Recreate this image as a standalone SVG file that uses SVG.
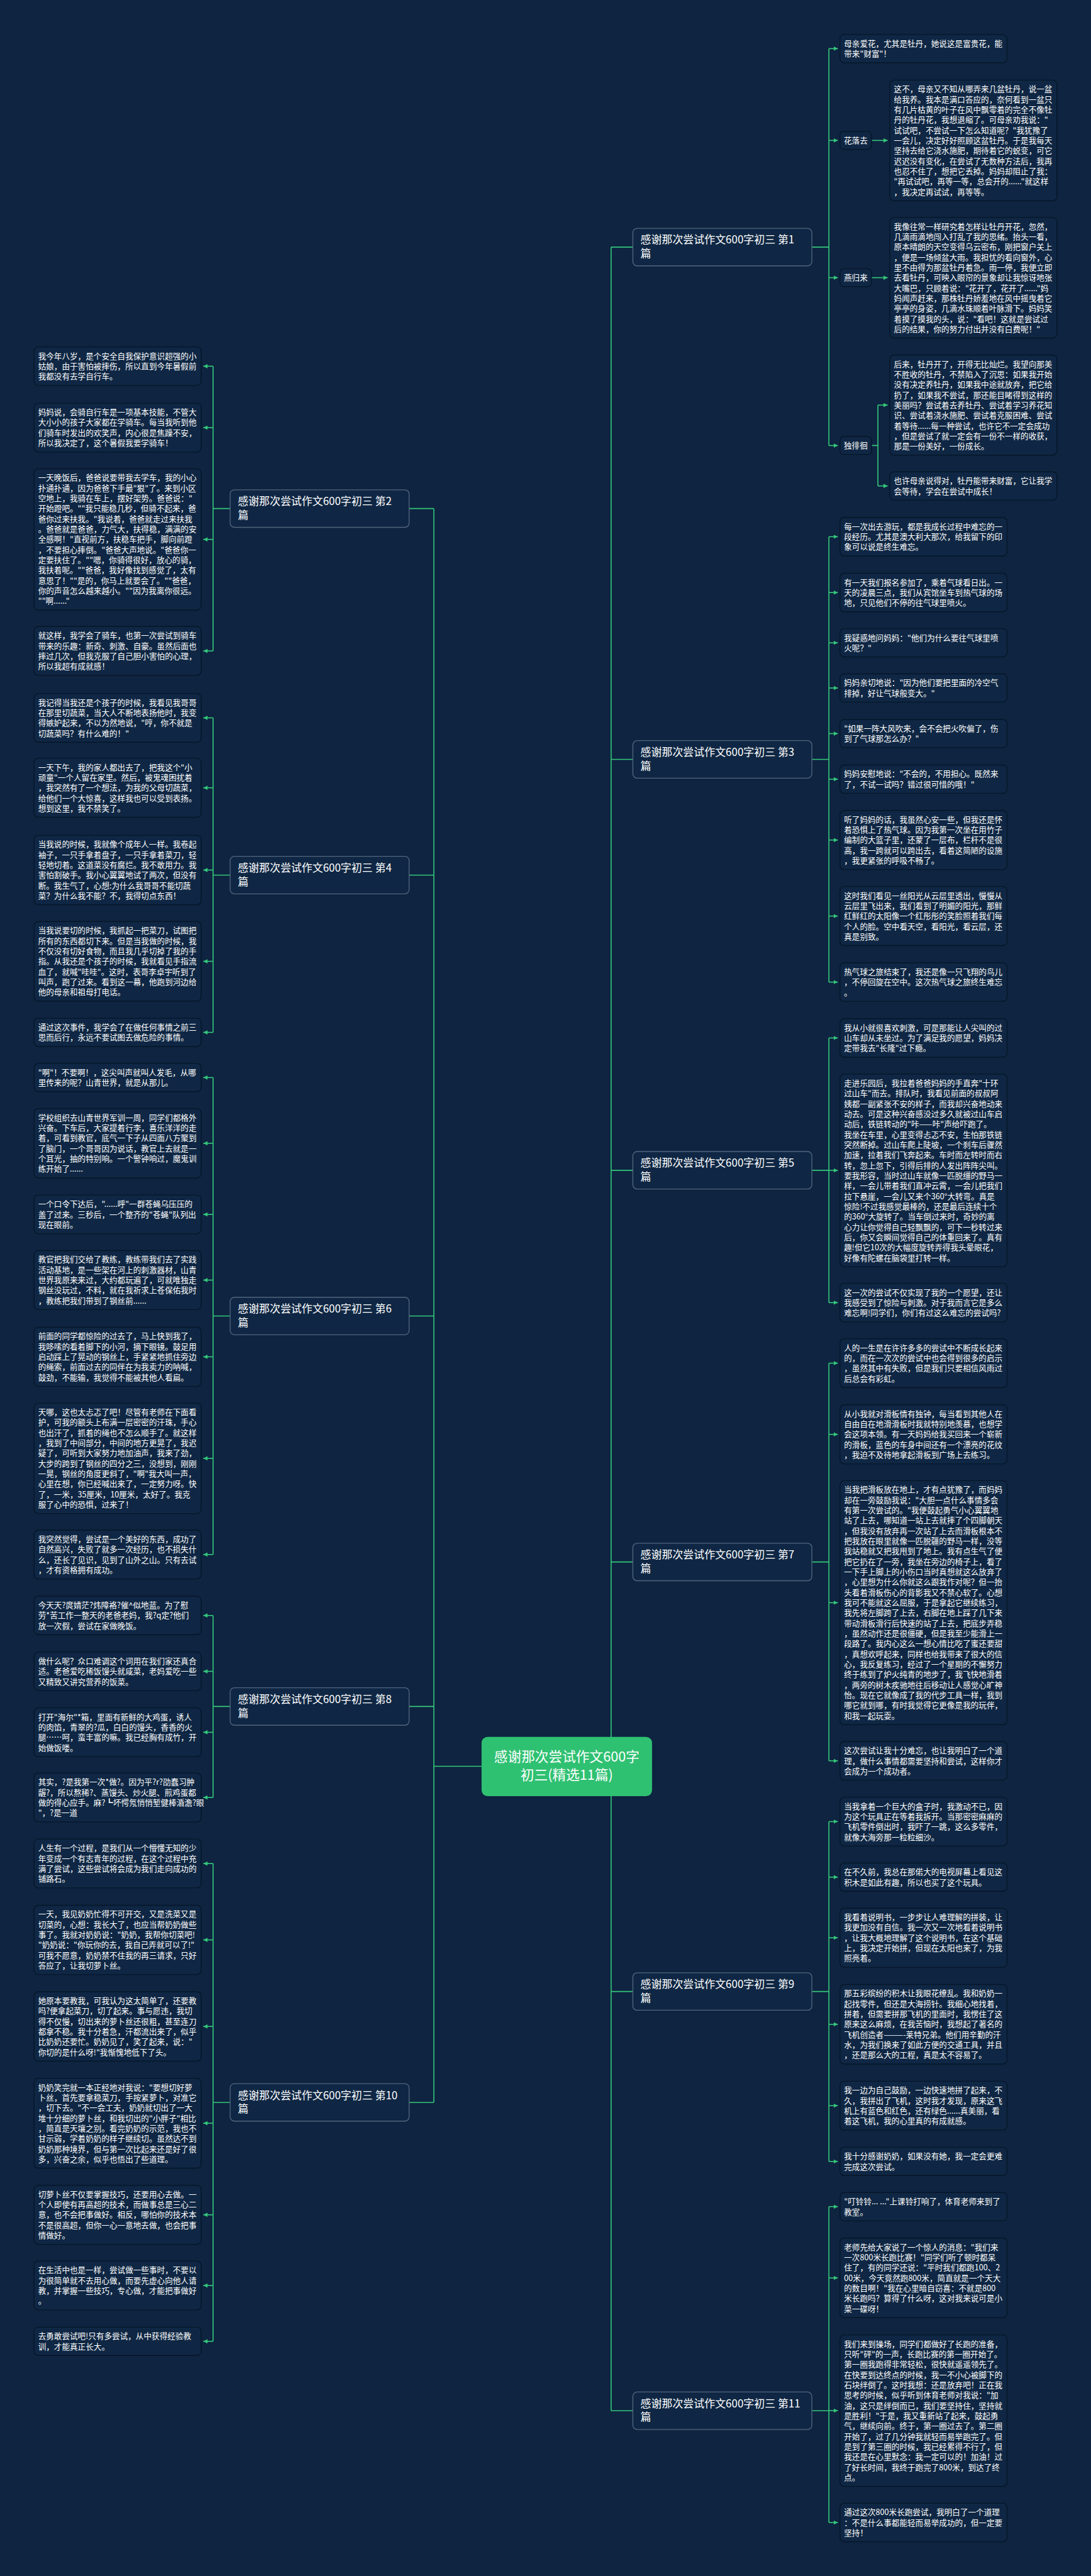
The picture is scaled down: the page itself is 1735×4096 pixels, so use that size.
<svg xmlns="http://www.w3.org/2000/svg" width="1735" height="4096" viewBox="0 0 1735 4096">
<defs>
<style>
.bx{fill:#0f2744;stroke:#061629;stroke-width:2}
.lb{fill:#0f2744;stroke:#061629;stroke-width:2}
.nd{fill:#0f2744;stroke:#51657c;stroke-width:2}
.t{font-family:"Noto Sans CJK SC","Noto Sans",sans-serif;font-size:18.6px;fill:#ffffff}
.nt{font-family:"Noto Sans CJK SC","Noto Sans",sans-serif;font-size:25px;fill:#ffffff}
.rt{font-family:"Noto Sans CJK SC","Noto Sans",sans-serif;font-size:32px;fill:#ffffff}
.ln{stroke:#34c77b;stroke-width:2.4;fill:none}
.ar{stroke:#34c77b;stroke-width:2.4;fill:none;marker-end:url(#ah)}
</style>
<marker id="ah" viewBox="0 0 10 10" refX="10" refY="5" markerWidth="10" markerHeight="10" markerUnits="userSpaceOnUse" orient="auto"><path d="M0,0 L10,5 L0,10 z" fill="#34c77b"/></marker>
</defs>
<rect x="0" y="0" width="1735" height="4096" fill="#0e2440"/>
<g transform="scale(0.67773)">
<g id="connectors">
<path class="ln" d="M1434,579.7 V5656"/>
<path class="ln" d="M1434,579.7 H1485 M1434,1781.7 H1485 M1434,2745.7 H1485 M1434,3664.7 H1485 M1434,4672.4 H1485 M1434,5656 H1485 M1434,4144 H1530"/>
<path class="ln" d="M1018,1193.2 V4932.6"/>
<path class="ln" d="M960,1193.2 H1018 M960,2053.2 H1018 M960,3087.6 H1018 M960,4003.7 H1018 M960,4932.6 H1018 M1018,4144 H1130"/>
<path class="ln" d="M540,1193.2 H500 M500,859.2 V1527.2"/>
<path class="ar" d="M500,859.2 H477"/><path class="ar" d="M500,1003.2 H477"/><path class="ar" d="M500,1265.5 H477"/><path class="ar" d="M500,1527.2 H477"/>
<path class="ln" d="M540,2053.2 H500 M500,1684.2 V2422.1"/>
<path class="ar" d="M500,1684.2 H477"/><path class="ar" d="M500,1848.3 H477"/><path class="ar" d="M500,2041.3 H477"/><path class="ar" d="M500,2255.4 H477"/><path class="ar" d="M500,2422.1 H477"/>
<path class="ln" d="M540,3087.6 H500 M500,2528.1 V3647.2"/>
<path class="ar" d="M500,2528.1 H477"/><path class="ar" d="M500,2682.3 H477"/><path class="ar" d="M500,2849.2 H477"/><path class="ar" d="M500,3003.3 H477"/><path class="ar" d="M500,3183.3 H477"/><path class="ar" d="M500,3421.5 H477"/><path class="ar" d="M500,3647.2 H477"/>
<path class="ln" d="M540,4003.7 H500 M500,3790.2 V4217.2"/>
<path class="ar" d="M500,3790.2 H477"/><path class="ar" d="M500,3921.2 H477"/><path class="ar" d="M500,4064.2 H477"/><path class="ar" d="M500,4217.2 H477"/>
<path class="ln" d="M540,4932.6 H500 M500,4372.2 V5493.1"/>
<path class="ar" d="M500,4372.2 H477"/><path class="ar" d="M500,4551.3 H477"/><path class="ar" d="M500,4754.3 H477"/><path class="ar" d="M500,4981.4 H477"/><path class="ar" d="M500,5196.3 H477"/><path class="ar" d="M500,5362.2 H477"/><path class="ar" d="M500,5493.1 H477"/>
<path class="ln" d="M1905,579.7 H1945 M1945,114.1 V1045.3"/>
<path class="ar" d="M1945,114.1 H1966"/><path class="ar" d="M1945,329.5 H1966"/><path class="ar" d="M1945,651.5 H1966"/><path class="ar" d="M1945,1045.3 H1966"/>
<path class="ar" d="M2045,329.5 H2083"/><path class="ar" d="M2045,651.5 H2083"/>
<path class="ln" d="M2045,1045.3 H2060 M2060,950.4 V1140.1"/>
<path class="ar" d="M2060,950.4 H2083"/><path class="ar" d="M2060,1140.1 H2083"/>
<path class="ln" d="M1905,1781.7 H1945 M1945,1259.2 V2304.2"/>
<path class="ar" d="M1945,1259.2 H1966"/><path class="ar" d="M1945,1390.2 H1966"/><path class="ar" d="M1945,1508.1 H1966"/><path class="ar" d="M1945,1614.1 H1966"/><path class="ar" d="M1945,1721.1 H1966"/><path class="ar" d="M1945,1828.1 H1966"/><path class="ar" d="M1945,1970.8 H1966"/><path class="ar" d="M1945,2149.3 H1966"/><path class="ar" d="M1945,2304.2 H1966"/>
<path class="ln" d="M1905,2745.7 H1945 M1945,2435.2 V3056.2"/>
<path class="ar" d="M1945,2435.2 H1966"/><path class="ar" d="M1945,2745.9 H1966"/><path class="ar" d="M1945,3056.2 H1966"/>
<path class="ln" d="M1905,3664.7 H1945 M1945,3198.2 V4131.2"/>
<path class="ar" d="M1945,3198.2 H1966"/><path class="ar" d="M1945,3365.3 H1966"/><path class="ar" d="M1945,3760.2 H1966"/><path class="ar" d="M1945,4131.2 H1966"/>
<path class="ln" d="M1905,4672.4 H1945 M1945,4273.7 V5071.1"/>
<path class="ar" d="M1945,4273.7 H1966"/><path class="ar" d="M1945,4404.1 H1966"/><path class="ar" d="M1945,4546.3 H1966"/><path class="ar" d="M1945,4749.4 H1966"/><path class="ar" d="M1945,4940.2 H1966"/><path class="ar" d="M1945,5071.1 H1966"/>
<path class="ln" d="M1905,5656 H1945 M1945,5177.1 V5918.2"/>
<path class="ar" d="M1945,5177.1 H1966"/><path class="ar" d="M1945,5344.4 H1966"/><path class="ar" d="M1945,5655.7 H1966"/><path class="ar" d="M1945,5918.2 H1966"/>
</g>

<g id="root" transform="translate(1130,4075)"><rect width="400" height="139" rx="14" fill="#2fc172"/><text class="rt" x="200" y="58" text-anchor="middle"><tspan x="200">感谢那次尝试作文600字</tspan><tspan x="200" dy="42">初三(精选11篇)</tspan></text></g>

<g id="p1" transform="translate(1485,535.7)"><rect class="nd" width="420" height="88" rx="10"/><text class="nt" x="18" y="36"><tspan x="18">感谢那次尝试作文600字初三 第1</tspan><tspan x="18" dy="32">篇</tspan></text></g>
<g id="p3" transform="translate(1485,1737.7)"><rect class="nd" width="420" height="88" rx="10"/><text class="nt" x="18" y="36"><tspan x="18">感谢那次尝试作文600字初三 第3</tspan><tspan x="18" dy="32">篇</tspan></text></g>
<g id="p5" transform="translate(1485,2701.7)"><rect class="nd" width="420" height="88" rx="10"/><text class="nt" x="18" y="36"><tspan x="18">感谢那次尝试作文600字初三 第5</tspan><tspan x="18" dy="32">篇</tspan></text></g>
<g id="p7" transform="translate(1485,3620.7)"><rect class="nd" width="420" height="88" rx="10"/><text class="nt" x="18" y="36"><tspan x="18">感谢那次尝试作文600字初三 第7</tspan><tspan x="18" dy="32">篇</tspan></text></g>
<g id="p9" transform="translate(1485,4628.4)"><rect class="nd" width="420" height="88" rx="10"/><text class="nt" x="18" y="36"><tspan x="18">感谢那次尝试作文600字初三 第9</tspan><tspan x="18" dy="32">篇</tspan></text></g>
<g id="p11" transform="translate(1485,5612)"><rect class="nd" width="420" height="88" rx="10"/><text class="nt" x="18" y="36"><tspan x="18">感谢那次尝试作文600字初三 第11</tspan><tspan x="18" dy="32">篇</tspan></text></g>
<g id="p2" transform="translate(540,1149.2)"><rect class="nd" width="420" height="88" rx="10"/><text class="nt" x="18" y="36"><tspan x="18">感谢那次尝试作文600字初三 第2</tspan><tspan x="18" dy="32">篇</tspan></text></g>
<g id="p4" transform="translate(540,2009.2)"><rect class="nd" width="420" height="88" rx="10"/><text class="nt" x="18" y="36"><tspan x="18">感谢那次尝试作文600字初三 第4</tspan><tspan x="18" dy="32">篇</tspan></text></g>
<g id="p6" transform="translate(540,3043.6)"><rect class="nd" width="420" height="88" rx="10"/><text class="nt" x="18" y="36"><tspan x="18">感谢那次尝试作文600字初三 第6</tspan><tspan x="18" dy="32">篇</tspan></text></g>
<g id="p8" transform="translate(540,3959.7)"><rect class="nd" width="420" height="88" rx="10"/><text class="nt" x="18" y="36"><tspan x="18">感谢那次尝试作文600字初三 第8</tspan><tspan x="18" dy="32">篇</tspan></text></g>
<g id="p10" transform="translate(540,4888.6)"><rect class="nd" width="420" height="88" rx="10"/><text class="nt" x="18" y="36"><tspan x="18">感谢那次尝试作文600字初三 第10</tspan><tspan x="18" dy="32">篇</tspan></text></g>

<g id="a1" transform="translate(80,814)"><rect class="bx" width="392" height="90.3" rx="10"/><text class="t" x="9.5" y="28"><tspan x="9.5">我今年八岁，是个安全自我保护意识超强的小</tspan><tspan x="9.5" dy="24.1">姑娘，由于害怕被摔伤，所以直到今年暑假前</tspan><tspan x="9.5" dy="24.1">我都没有去学自行车。</tspan></text></g>
<g id="a2" transform="translate(80,946)"><rect class="bx" width="392" height="114.4" rx="10"/><text class="t" x="9.5" y="28"><tspan x="9.5">妈妈说，会骑自行车是一项基本技能，不管大</tspan><tspan x="9.5" dy="24.1">大小小的孩子大家都在学骑车。每当我听到他</tspan><tspan x="9.5" dy="24.1">们骑车时发出的欢笑声，内心很是焦躁不安，</tspan><tspan x="9.5" dy="24.1">所以我决定了，这个暑假我要学骑车！</tspan></text></g>
<g id="a3" transform="translate(80,1100)"><rect class="bx" width="392" height="331.3" rx="10"/><text class="t" x="9.5" y="28"><tspan x="9.5">一天晚饭后，爸爸说要带我去学车，我的小心</tspan><tspan x="9.5" dy="24.1">扑通扑通，因为爸爸下手最"狠"了。来到小区</tspan><tspan x="9.5" dy="24.1">空地上，我骑在车上，摆好架势。爸爸说："</tspan><tspan x="9.5" dy="24.1">开始蹬吧。""我只能稳几秒，但骑不起来，爸</tspan><tspan x="9.5" dy="24.1">爸你过来扶我。"我说着，爸爸就走过来扶我</tspan><tspan x="9.5" dy="24.1">。爸爸就是爸爸，力气大，扶得稳，满满的安</tspan><tspan x="9.5" dy="24.1">全感啊！"直视前方，扶稳车把手，脚向前蹬</tspan><tspan x="9.5" dy="24.1">，不要担心摔倒。"爸爸大声地说。"爸爸你一</tspan><tspan x="9.5" dy="24.1">定要扶住了。""嗯，你骑得很好，放心的骑，</tspan><tspan x="9.5" dy="24.1">我扶着呢。""爸爸，我好像找到感觉了，太有</tspan><tspan x="9.5" dy="24.1">意思了！""是的，你马上就要会了。""爸爸，</tspan><tspan x="9.5" dy="24.1">你的声音怎么越来越小。""因为我离你很远。</tspan><tspan x="9.5" dy="24.1">""啊......"</tspan></text></g>
<g id="a4" transform="translate(80,1470)"><rect class="bx" width="392" height="114.4" rx="10"/><text class="t" x="9.5" y="28"><tspan x="9.5">就这样，我学会了骑车，也第一次尝试到骑车</tspan><tspan x="9.5" dy="24.1">带来的乐趣：新奇、刺激、自豪。虽然后面也</tspan><tspan x="9.5" dy="24.1">摔过几次，但我克服了自己胆小害怕的心理，</tspan><tspan x="9.5" dy="24.1">所以我超有成就感！</tspan></text></g>

<g id="b1" transform="translate(80,1627)"><rect class="bx" width="392" height="114.4" rx="10"/><text class="t" x="9.5" y="28"><tspan x="9.5">我记得当我还是个孩子的时候，我看见我哥哥</tspan><tspan x="9.5" dy="24.1">在那里切蔬菜，当大人不断地表扬他时，我变</tspan><tspan x="9.5" dy="24.1">得嫉妒起来，不以为然地说，"哼，你不就是</tspan><tspan x="9.5" dy="24.1">切蔬菜吗？有什么难的！"</tspan></text></g>
<g id="b2" transform="translate(80,1779)"><rect class="bx" width="392" height="138.5" rx="10"/><text class="t" x="9.5" y="28"><tspan x="9.5">一天下午，我的家人都出去了，把我这个"小</tspan><tspan x="9.5" dy="24.1">顽童"一个人留在家里。然后，被鬼魂困扰着</tspan><tspan x="9.5" dy="24.1">，我突然有了一个想法，为我的父母切蔬菜，</tspan><tspan x="9.5" dy="24.1">给他们一个大惊喜，这样我也可以受到表扬。</tspan><tspan x="9.5" dy="24.1">想到这里，我不禁笑了。</tspan></text></g>
<g id="b3" transform="translate(80,1960)"><rect class="bx" width="392" height="162.6" rx="10"/><text class="t" x="9.5" y="28"><tspan x="9.5">当我说的时候，我就像个成年人一样。我卷起</tspan><tspan x="9.5" dy="24.1">袖子，一只手拿着盘子，一只手拿着菜刀，轻</tspan><tspan x="9.5" dy="24.1">轻地切着。这道菜没有腐烂。我不敢用力。我</tspan><tspan x="9.5" dy="24.1">害怕割破手。我小心翼翼地试了两次，但没有</tspan><tspan x="9.5" dy="24.1">断。我生气了，心想:为什么我哥哥不能切蔬</tspan><tspan x="9.5" dy="24.1">菜？为什么我不能？不，我得切点东西！</tspan></text></g>
<g id="b4" transform="translate(80,2162)"><rect class="bx" width="392" height="186.7" rx="10"/><text class="t" x="9.5" y="28"><tspan x="9.5">当我说要切的时候，我抓起一把菜刀，试图把</tspan><tspan x="9.5" dy="24.1">所有的东西都切下来。但是当我做的时候，我</tspan><tspan x="9.5" dy="24.1">不仅没有切好食物，而且我几乎切掉了我的手</tspan><tspan x="9.5" dy="24.1">指。从我还是个孩子的时候，我就看见手指流</tspan><tspan x="9.5" dy="24.1">血了，就喊"哇哇"。这时，表哥李卓宇听到了</tspan><tspan x="9.5" dy="24.1">叫声，跑了过来。看到这一幕，他跑到河边给</tspan><tspan x="9.5" dy="24.1">他的母亲和祖母打电话。</tspan></text></g>
<g id="b5" transform="translate(80,2389)"><rect class="bx" width="392" height="66.2" rx="10"/><text class="t" x="9.5" y="28"><tspan x="9.5">通过这次事件，我学会了在做任何事情之前三</tspan><tspan x="9.5" dy="24.1">思而后行，永远不要试图去做危险的事情。</tspan></text></g>

<g id="c1" transform="translate(80,2495)"><rect class="bx" width="392" height="66.2" rx="10"/><text class="t" x="9.5" y="28"><tspan x="9.5">"啊"！不要啊！，这尖叫声就叫人发毛，从哪</tspan><tspan x="9.5" dy="24.1">里传来的呢？山青世界，就是从那儿。</tspan></text></g>
<g id="c2" transform="translate(80,2601)"><rect class="bx" width="392" height="162.6" rx="10"/><text class="t" x="9.5" y="28"><tspan x="9.5">学校组织去山青世界军训一周，同学们都格外</tspan><tspan x="9.5" dy="24.1">兴奋。下车后，大家提着行李，喜乐洋洋的走</tspan><tspan x="9.5" dy="24.1">着，可看到教官，底气一下子从四面八方聚到</tspan><tspan x="9.5" dy="24.1">了脑门，一个哥哥因为说话，教官上去就是一</tspan><tspan x="9.5" dy="24.1">个耳光，抽的特别响。一个警钟响过，魔鬼训</tspan><tspan x="9.5" dy="24.1">练开始了......</tspan></text></g>
<g id="c3" transform="translate(80,2804)"><rect class="bx" width="392" height="90.3" rx="10"/><text class="t" x="9.5" y="28"><tspan x="9.5">一个口令下达后，"......呼"一群苍蝇乌压压的</tspan><tspan x="9.5" dy="24.1">盖了过来。三秒后，一个整齐的"苍蝇"队列出</tspan><tspan x="9.5" dy="24.1">现在眼前。</tspan></text></g>
<g id="c4" transform="translate(80,2934)"><rect class="bx" width="392" height="138.5" rx="10"/><text class="t" x="9.5" y="28"><tspan x="9.5">教官把我们交给了教练，教练带我们去了实践</tspan><tspan x="9.5" dy="24.1">活动基地，是一些架在河上的刺激器材，山青</tspan><tspan x="9.5" dy="24.1">世界我原来来过，大约都玩遍了，可就唯独走</tspan><tspan x="9.5" dy="24.1">钢丝没玩过，不料，就在我祈求上苍保佑我时</tspan><tspan x="9.5" dy="24.1">，教练把我们带到了钢丝前......</tspan></text></g>
<g id="c5" transform="translate(80,3114)"><rect class="bx" width="392" height="138.5" rx="10"/><text class="t" x="9.5" y="28"><tspan x="9.5">前面的同学都惊险的过去了，马上快到我了，</tspan><tspan x="9.5" dy="24.1">我哆嗦的看着脚下的小河，摘下眼镜。鼓足用</tspan><tspan x="9.5" dy="24.1">启动踩上了晃动的钢丝上，手紧紧地抓住旁边</tspan><tspan x="9.5" dy="24.1">的绳索，前面过去的同伴在为我卖力的呐喊，</tspan><tspan x="9.5" dy="24.1">鼓劲，不能输，我觉得不能被其他人看扁。</tspan></text></g>
<g id="c6" transform="translate(80,3292)"><rect class="bx" width="392" height="259" rx="10"/><text class="t" x="9.5" y="28"><tspan x="9.5">天哪，这也太忐忑了吧！尽管有老师在下面看</tspan><tspan x="9.5" dy="24.1">护，可我的额头上布满一层密密的汗珠，手心</tspan><tspan x="9.5" dy="24.1">也出汗了，抓着的绳也不怎么顺手了。就这样</tspan><tspan x="9.5" dy="24.1">，我到了中间部分，中间的地方更晃了，我迟</tspan><tspan x="9.5" dy="24.1">疑了，可听到大家努力地加油声，我来了劲，</tspan><tspan x="9.5" dy="24.1">大步的跨到了钢丝的四分之三，没想到，刚刚</tspan><tspan x="9.5" dy="24.1">一晃，钢丝的角度更斜了，"啊"我大叫一声，</tspan><tspan x="9.5" dy="24.1">心里在想，你已经喊出来了，一定努力呀。快</tspan><tspan x="9.5" dy="24.1">了，一米，35厘米，10厘米，太好了。我克</tspan><tspan x="9.5" dy="24.1">服了心中的恐惧，过来了！</tspan></text></g>
<g id="c7" transform="translate(80,3590)"><rect class="bx" width="392" height="114.4" rx="10"/><text class="t" x="9.5" y="28"><tspan x="9.5">我突然觉得，尝试是一个美好的东西，成功了</tspan><tspan x="9.5" dy="24.1">自然高兴，失败了就多一次经历，也不损失什</tspan><tspan x="9.5" dy="24.1">么，还长了见识，见到了山外之山。只有去试</tspan><tspan x="9.5" dy="24.1">，才有资格拥有成功。</tspan></text></g>

<g id="d1" transform="translate(80,3745)"><rect class="bx" width="392" height="90.3" rx="10"/><text class="t" x="9.5" y="28"><tspan x="9.5">今天天?庹婧茫?炜障袼?催^似地蓝。为了慰</tspan><tspan x="9.5" dy="24.1">劳*苦工作一整天的老爸老妈，我?q定?他们</tspan><tspan x="9.5" dy="24.1">放一次假，尝试在家做晚饭。</tspan></text></g>
<g id="d2" transform="translate(80,3876)"><rect class="bx" width="392" height="90.3" rx="10"/><text class="t" x="9.5" y="28"><tspan x="9.5">做什么呢？众口难调这个词用在我们家还真合</tspan><tspan x="9.5" dy="24.1">适。老爸爱吃稀饭馒头就咸菜，老妈爱吃一些</tspan><tspan x="9.5" dy="24.1">又精致又讲究营养的饭菜。</tspan></text></g>
<g id="d3" transform="translate(80,4007)"><rect class="bx" width="392" height="114.4" rx="10"/><text class="t" x="9.5" y="28"><tspan x="9.5">打开"海尔"*箱，里面有新鲜的大鸡蛋，诱人</tspan><tspan x="9.5" dy="24.1">的肉馅，青翠的?瓜，白白的馒头，香香的火</tspan><tspan x="9.5" dy="24.1">腿……呵，蛮丰富的嘛。我已经胸有成竹，开</tspan><tspan x="9.5" dy="24.1">始做饭喽。</tspan></text></g>
<g id="d4" transform="translate(80,4160)"><rect class="bx" width="392" height="114.4" rx="10"/><text class="t" x="9.5" y="28"><tspan x="9.5">其实，?是我第一次*做?。因为平?r?劭蠢习肿</tspan><tspan x="9.5" dy="24.1">龌?，所以熬稀?、蒸馒头、炒火腿、煎鸡蛋都</tspan><tspan x="9.5" dy="24.1">做的得心应手。麻?┗坏愕氖悄悄堑健棒涽澹?眼</tspan><tspan x="9.5" dy="24.1">"，?是一道</tspan></text></g>

<g id="e1" transform="translate(80,4315)"><rect class="bx" width="392" height="114.4" rx="10"/><text class="t" x="9.5" y="28"><tspan x="9.5">人生有一个过程，是我们从一个懵懂无知的少</tspan><tspan x="9.5" dy="24.1">年变成一个有志青年的过程，在这个过程中充</tspan><tspan x="9.5" dy="24.1">满了尝试，这些尝试将会成为我们走向成功的</tspan><tspan x="9.5" dy="24.1">铺路石。</tspan></text></g>
<g id="e2" transform="translate(80,4470)"><rect class="bx" width="392" height="162.6" rx="10"/><text class="t" x="9.5" y="28"><tspan x="9.5">一天，我见奶奶忙得不可开交，又是洗菜又是</tspan><tspan x="9.5" dy="24.1">切菜的，心想：我长大了，也应当帮奶奶做些</tspan><tspan x="9.5" dy="24.1">事了。我就对奶奶说："奶奶，我帮你切菜吧!</tspan><tspan x="9.5" dy="24.1">"奶奶说："你玩你的去，我自己弄就可以了!"</tspan><tspan x="9.5" dy="24.1">可我不愿意，奶奶禁不住我的再三请求，只好</tspan><tspan x="9.5" dy="24.1">答应了，让我切萝卜丝。</tspan></text></g>
<g id="e3" transform="translate(80,4673)"><rect class="bx" width="392" height="162.6" rx="10"/><text class="t" x="9.5" y="28"><tspan x="9.5">她原本要教我，可我认为这太简单了，还要教</tspan><tspan x="9.5" dy="24.1">吗?便拿起菜刀，切了起来。事与愿违，我切</tspan><tspan x="9.5" dy="24.1">得不仅慢，切出来的萝卜丝还很粗，甚至连刀</tspan><tspan x="9.5" dy="24.1">都拿不稳。我十分着急，汗都流出来了，似乎</tspan><tspan x="9.5" dy="24.1">比奶奶还要忙。奶奶见了，笑了起来，说："</tspan><tspan x="9.5" dy="24.1">你切的是什么呀!"我惭愧地低下了头。</tspan></text></g>
<g id="e4" transform="translate(80,4876)"><rect class="bx" width="392" height="210.8" rx="10"/><text class="t" x="9.5" y="28"><tspan x="9.5">奶奶笑完就一本正经地对我说："要想切好萝</tspan><tspan x="9.5" dy="24.1">卜丝，首先要拿稳菜刀，手按紧萝卜，对准它</tspan><tspan x="9.5" dy="24.1">，切下去。"不一会工夫，奶奶就切出了一大</tspan><tspan x="9.5" dy="24.1">堆十分细的萝卜丝，和我切出的"小胖子"相比</tspan><tspan x="9.5" dy="24.1">，简直是天壤之别。看完奶奶的示范，我也不</tspan><tspan x="9.5" dy="24.1">甘示弱，学着奶奶的样子继续切。虽然达不到</tspan><tspan x="9.5" dy="24.1">奶奶那种境界，但与第一次比起来还是好了很</tspan><tspan x="9.5" dy="24.1">多，兴奋之余，似乎也悟出了些道理。</tspan></text></g>
<g id="e5" transform="translate(80,5127)"><rect class="bx" width="392" height="138.5" rx="10"/><text class="t" x="9.5" y="28"><tspan x="9.5">切萝卜丝不仅要掌握技巧，还要用心去做。一</tspan><tspan x="9.5" dy="24.1">个人即使有再高超的技术，而做事总是三心二</tspan><tspan x="9.5" dy="24.1">意，也不会把事做好。相反，哪怕你的技术本</tspan><tspan x="9.5" dy="24.1">不是很高超，但你一心一意地去做，也会把事</tspan><tspan x="9.5" dy="24.1">情做好。</tspan></text></g>
<g id="e6" transform="translate(80,5305)"><rect class="bx" width="392" height="114.4" rx="10"/><text class="t" x="9.5" y="28"><tspan x="9.5">在生活中也是一样，尝试做一些事时，不要以</tspan><tspan x="9.5" dy="24.1">为很简单就不去用心做，而要先虚心向他人请</tspan><tspan x="9.5" dy="24.1">教，并掌握一些技巧，专心做，才能把事做好</tspan><tspan x="9.5" dy="24.1">。</tspan></text></g>
<g id="e7" transform="translate(80,5460)"><rect class="bx" width="392" height="66.2" rx="10"/><text class="t" x="9.5" y="28"><tspan x="9.5">去勇敢尝试吧!只有多尝试，从中获得经验教</tspan><tspan x="9.5" dy="24.1">训，才能真正长大。</tspan></text></g>

<g id="r1" transform="translate(1971,81)"><rect class="bx" width="392" height="66.2" rx="10"/><text class="t" x="9.5" y="28"><tspan x="9.5">母亲爱花，尤其是牡丹，她说这是富贵花，能</tspan><tspan x="9.5" dy="24.1">带来"财富"！</tspan></text></g>
<g id="l1" transform="translate(1971,308.5)"><rect class="lb" width="74" height="42" rx="9"/><text class="t" x="37" y="28" text-anchor="middle">花落去</text></g>
<g id="l2" transform="translate(1971,630.5)"><rect class="lb" width="74" height="42" rx="9"/><text class="t" x="37" y="28" text-anchor="middle">燕归来</text></g>
<g id="l3" transform="translate(1971,1024.3)"><rect class="lb" width="74" height="42" rx="9"/><text class="t" x="37" y="28" text-anchor="middle">独徘徊</text></g>
<g id="h1" transform="translate(2088,188)"><rect class="bx" width="392" height="283.1" rx="10"/><text class="t" x="9.5" y="28"><tspan x="9.5">这不，母亲又不知从哪弄来几盆牡丹，说一盆</tspan><tspan x="9.5" dy="24.1">给我养。我本是满口答应的，奈何看到一盆只</tspan><tspan x="9.5" dy="24.1">有几片枯黄的叶子在风中飘零着的完全不像牡</tspan><tspan x="9.5" dy="24.1">丹的牡丹花，我想退缩了。可母亲劝我说："</tspan><tspan x="9.5" dy="24.1">试试吧，不尝试一下怎么知道呢？"我犹豫了</tspan><tspan x="9.5" dy="24.1">一会儿，决定好好照顾这盆牡丹。于是我每天</tspan><tspan x="9.5" dy="24.1">坚持去给它浇水施肥，期待着它的蜕变，可它</tspan><tspan x="9.5" dy="24.1">迟迟没有变化，在尝试了无数种方法后，我再</tspan><tspan x="9.5" dy="24.1">也忍不住了，想把它丢掉。妈妈却阻止了我：</tspan><tspan x="9.5" dy="24.1">"再试试吧，再等一等，总会开的......"就这样</tspan><tspan x="9.5" dy="24.1">，我决定再试试，再等等。</tspan></text></g>
<g id="h2" transform="translate(2088,510)"><rect class="bx" width="392" height="283.1" rx="10"/><text class="t" x="9.5" y="28"><tspan x="9.5">我像往常一样研究着怎样让牡丹开花，忽然，</tspan><tspan x="9.5" dy="24.1">几滴雨滴地闯入打乱了我的思绪。抬头一看，</tspan><tspan x="9.5" dy="24.1">原本晴朗的天空变得乌云密布，刚把窗户关上</tspan><tspan x="9.5" dy="24.1">，便是一场倾盆大雨。我担忧的看向窗外，心</tspan><tspan x="9.5" dy="24.1">里不由得为那盆牡丹着急。雨一停，我便立即</tspan><tspan x="9.5" dy="24.1">去看牡丹，可映入眼帘的景象却让我惊讶地张</tspan><tspan x="9.5" dy="24.1">大嘴巴，只顾着说："花开了，花开了......"妈</tspan><tspan x="9.5" dy="24.1">妈闻声赶来，那株牡丹娇羞地在风中摇曳着它</tspan><tspan x="9.5" dy="24.1">亭亭的身姿，几滴水珠顺着叶脉滑下。妈妈笑</tspan><tspan x="9.5" dy="24.1">着摸了摸我的头，说："看吧！这就是尝试过</tspan><tspan x="9.5" dy="24.1">后的结果，你的努力付出并没有白费呢！"</tspan></text></g>
<g id="h3" transform="translate(2088,833)"><rect class="bx" width="392" height="234.9" rx="10"/><text class="t" x="9.5" y="28"><tspan x="9.5">后来，牡丹开了，开得无比灿烂。我望向那美</tspan><tspan x="9.5" dy="24.1">不胜收的牡丹，不禁陷入了沉思：如果我开始</tspan><tspan x="9.5" dy="24.1">没有决定养牡丹，如果我中途就放弃，把它给</tspan><tspan x="9.5" dy="24.1">扔了，如果我不尝试，那还能目睹得到这样的</tspan><tspan x="9.5" dy="24.1">美丽吗？尝试着去养牡丹、尝试着学习养花知</tspan><tspan x="9.5" dy="24.1">识、尝试着浇水施肥、尝试着克服困难、尝试</tspan><tspan x="9.5" dy="24.1">着等待......每一种尝试，也许它不一定会成功</tspan><tspan x="9.5" dy="24.1">，但是尝试了就一定会有一份不一样的收获，</tspan><tspan x="9.5" dy="24.1">那是一份美好，一份成长。</tspan></text></g>
<g id="h4" transform="translate(2088,1107)"><rect class="bx" width="392" height="66.2" rx="10"/><text class="t" x="9.5" y="28"><tspan x="9.5">也许母亲说得对，牡丹能带来财富，它让我学</tspan><tspan x="9.5" dy="24.1">会等待，学会在尝试中成长！</tspan></text></g>

<g id="s1" transform="translate(1971,1214)"><rect class="bx" width="392" height="90.3" rx="10"/><text class="t" x="9.5" y="28"><tspan x="9.5">每一次出去游玩，都是我成长过程中难忘的一</tspan><tspan x="9.5" dy="24.1">段经历。尤其是澳大利大那次，给我留下的印</tspan><tspan x="9.5" dy="24.1">象可以说是终生难忘。</tspan></text></g>
<g id="s2" transform="translate(1971,1345)"><rect class="bx" width="392" height="90.3" rx="10"/><text class="t" x="9.5" y="28"><tspan x="9.5">有一天我们报名参加了，乘着气球看日出。一</tspan><tspan x="9.5" dy="24.1">天的凌晨三点，我们从宾馆坐车到热气球的场</tspan><tspan x="9.5" dy="24.1">地，只见他们不停的往气球里喷火。</tspan></text></g>
<g id="s3" transform="translate(1971,1475)"><rect class="bx" width="392" height="66.2" rx="10"/><text class="t" x="9.5" y="28"><tspan x="9.5">我疑惑地问妈妈："他们为什么要往气球里喷</tspan><tspan x="9.5" dy="24.1">火呢？"</tspan></text></g>
<g id="s4" transform="translate(1971,1581)"><rect class="bx" width="392" height="66.2" rx="10"/><text class="t" x="9.5" y="28"><tspan x="9.5">妈妈亲切地说："因为他们要把里面的冷空气</tspan><tspan x="9.5" dy="24.1">排掉，好让气球般变大。"</tspan></text></g>
<g id="s5" transform="translate(1971,1688)"><rect class="bx" width="392" height="66.2" rx="10"/><text class="t" x="9.5" y="28"><tspan x="9.5">"如果一阵大风吹来，会不会把火吹偏了，伤</tspan><tspan x="9.5" dy="24.1">到了气球那怎么办？"</tspan></text></g>
<g id="s6" transform="translate(1971,1795)"><rect class="bx" width="392" height="66.2" rx="10"/><text class="t" x="9.5" y="28"><tspan x="9.5">妈妈安慰地说："不会的，不用担心。既然来</tspan><tspan x="9.5" dy="24.1">了，不试一试吗？错过很可惜的哦！"</tspan></text></g>
<g id="s7" transform="translate(1971,1901.5)"><rect class="bx" width="392" height="138.5" rx="10"/><text class="t" x="9.5" y="28"><tspan x="9.5">听了妈妈的话，我虽然心安一些，但我还是怀</tspan><tspan x="9.5" dy="24.1">着恐惧上了热气球。因为我第一次坐在用竹子</tspan><tspan x="9.5" dy="24.1">编制的大篮子里，还蒙了一层布，栏杆不是很</tspan><tspan x="9.5" dy="24.1">高，我一跨就可以跨出去，看着这简陋的设施</tspan><tspan x="9.5" dy="24.1">，我更紧张的呼吸不畅了。</tspan></text></g>
<g id="s8" transform="translate(1971,2080)"><rect class="bx" width="392" height="138.5" rx="10"/><text class="t" x="9.5" y="28"><tspan x="9.5">这时我们看见一丝阳光从云层里透出，慢慢从</tspan><tspan x="9.5" dy="24.1">云层里飞出来，我们看到了明媚的阳光，那鲜</tspan><tspan x="9.5" dy="24.1">红鲜红的太阳像一个红彤彤的笑脸照着我们每</tspan><tspan x="9.5" dy="24.1">个人的脸。空中看天空，看阳光，看云层，还</tspan><tspan x="9.5" dy="24.1">真是别致。</tspan></text></g>
<g id="s9" transform="translate(1971,2259)"><rect class="bx" width="392" height="90.3" rx="10"/><text class="t" x="9.5" y="28"><tspan x="9.5">热气球之旅结束了，我还是像一只飞翔的鸟儿</tspan><tspan x="9.5" dy="24.1">，不停回旋在空中。这次热气球之旅终生难忘</tspan><tspan x="9.5" dy="24.1">。</tspan></text></g>

<g id="t1" transform="translate(1971,2390)"><rect class="bx" width="392" height="90.3" rx="10"/><text class="t" x="9.5" y="28"><tspan x="9.5">我从小就很喜欢刺激，可是那能让人尖叫的过</tspan><tspan x="9.5" dy="24.1">山车却从未坐过。为了满足我的愿望，妈妈决</tspan><tspan x="9.5" dy="24.1">定带我去"长隆"过下瘾。</tspan></text></g>
<g id="t2" transform="translate(1971,2520)"><rect class="bx" width="392" height="451.8" rx="10"/><text class="t" x="9.5" y="28"><tspan x="9.5">走进乐园后，我拉着爸爸妈妈的手直奔"十环</tspan><tspan x="9.5" dy="24.1">过山车"而去。排队时，我看见前面的叔叔阿</tspan><tspan x="9.5" dy="24.1">姨都一副紧张不安的样子，而我却兴奋地动来</tspan><tspan x="9.5" dy="24.1">动去。可是这种兴奋感没过多久就被过山车启</tspan><tspan x="9.5" dy="24.1">动后，铁链转动的"咔——咔"声给吓跑了。</tspan><tspan x="9.5" dy="24.1">我坐在车里，心里变得忐忑不安，生怕那铁链</tspan><tspan x="9.5" dy="24.1">突然断掉。过山车爬上陡坡，一个刹车后骤然</tspan><tspan x="9.5" dy="24.1">加速，拉着我们飞奔起来。车时而左转时而右</tspan><tspan x="9.5" dy="24.1">转，忽上忽下，引得后排的人发出阵阵尖叫。</tspan><tspan x="9.5" dy="24.1">要我形容，当时过山车就像一匹脱缰的野马一</tspan><tspan x="9.5" dy="24.1">样，一会儿带着我们直冲云霄，一会儿把我们</tspan><tspan x="9.5" dy="24.1">拉下悬崖，一会儿又来个360°大转弯。真是</tspan><tspan x="9.5" dy="24.1">惊险!不过我感觉最棒的，还是最后连续十个</tspan><tspan x="9.5" dy="24.1">的360°大旋转了。当车倒过来时，奇妙的离</tspan><tspan x="9.5" dy="24.1">心力让你觉得自己轻飘飘的，可下一秒转过来</tspan><tspan x="9.5" dy="24.1">后，你又会瞬间觉得自己的体重回来了。真有</tspan><tspan x="9.5" dy="24.1">趣!但它10次的大幅度旋转弄得我头晕眼花，</tspan><tspan x="9.5" dy="24.1">好像有陀螺在脑袋里打转一样。</tspan></text></g>
<g id="t3" transform="translate(1971,3011)"><rect class="bx" width="392" height="90.3" rx="10"/><text class="t" x="9.5" y="28"><tspan x="9.5">这一次的尝试不仅实现了我的一个愿望，还让</tspan><tspan x="9.5" dy="24.1">我感受到了惊险与刺激。对于我而言它是多么</tspan><tspan x="9.5" dy="24.1">难忘啊!同学们，你们有过这么难忘的尝试吗?</tspan></text></g>

<g id="u1" transform="translate(1971,3141)"><rect class="bx" width="392" height="114.4" rx="10"/><text class="t" x="9.5" y="28"><tspan x="9.5">人的一生是在许许多多的尝试中不断成长起来</tspan><tspan x="9.5" dy="24.1">的，而在一次次的尝试中也会得到很多的启示</tspan><tspan x="9.5" dy="24.1">，虽然其中有失败，但是我们只要相信风雨过</tspan><tspan x="9.5" dy="24.1">后总会有彩虹。</tspan></text></g>
<g id="u2" transform="translate(1971,3296)"><rect class="bx" width="392" height="138.5" rx="10"/><text class="t" x="9.5" y="28"><tspan x="9.5">从小我就对滑板情有独钟，每当看到其他人在</tspan><tspan x="9.5" dy="24.1">自由自在地滑滑板时我就特别地羡慕，也想学</tspan><tspan x="9.5" dy="24.1">会这项本领。有一天妈妈给我买回来一个崭新</tspan><tspan x="9.5" dy="24.1">的滑板，蓝色的车身中间还有一个漂亮的花纹</tspan><tspan x="9.5" dy="24.1">，我迫不及待地拿起滑板到广场上去练习。</tspan></text></g>
<g id="u3" transform="translate(1971,3474)"><rect class="bx" width="392" height="572.3" rx="10"/><text class="t" x="9.5" y="28"><tspan x="9.5">当我把滑板放在地上，才有点犹豫了，而妈妈</tspan><tspan x="9.5" dy="24.1">却在一旁鼓励我说："大胆一点什么事情多会</tspan><tspan x="9.5" dy="24.1">有第一次尝试的。"我便鼓起勇气小心翼翼地</tspan><tspan x="9.5" dy="24.1">站了上去，哪知道一站上去就摔了个四脚朝天</tspan><tspan x="9.5" dy="24.1">，但我没有放弃再一次站了上去而滑板根本不</tspan><tspan x="9.5" dy="24.1">把我放在眼里就像一匹脱疆的野马一样，没等</tspan><tspan x="9.5" dy="24.1">我站稳就又把我甩到了地上。我有点生气了便</tspan><tspan x="9.5" dy="24.1">把它扔在了一旁，我坐在旁边的椅子上，看了</tspan><tspan x="9.5" dy="24.1">一下手上脚上的小伤口当时真想就这么放弃了</tspan><tspan x="9.5" dy="24.1">，心里想为什么你就这么跟我作对呢？但一抬</tspan><tspan x="9.5" dy="24.1">头看着滑板伤心的背影我又不禁心软了。心想</tspan><tspan x="9.5" dy="24.1">我可不能就这么屈服，于是拿起它继续练习，</tspan><tspan x="9.5" dy="24.1">我先将左脚跨了上去，右脚在地上踩了几下来</tspan><tspan x="9.5" dy="24.1">带动滑板滑行后快速的站了上去，把底步弄稳</tspan><tspan x="9.5" dy="24.1">，虽然动作还是很僵硬，但是我至少能滑上一</tspan><tspan x="9.5" dy="24.1">段路了。我内心这么一想心情比吃了蜜还要甜</tspan><tspan x="9.5" dy="24.1">，真想欢呼起来，同样也给我带来了很大的信</tspan><tspan x="9.5" dy="24.1">心，我反复练习，经过了一个星期的不懈努力</tspan><tspan x="9.5" dy="24.1">终于练到了炉火纯青的地步了，我飞快地滑着</tspan><tspan x="9.5" dy="24.1">，两旁的树木疾驰地往后移动让人感觉心旷神</tspan><tspan x="9.5" dy="24.1">怡。现在它就像成了我的代步工具一样，我到</tspan><tspan x="9.5" dy="24.1">哪它就到哪，有时我觉得它更像是我的玩伴，</tspan><tspan x="9.5" dy="24.1">和我一起玩耍。</tspan></text></g>
<g id="u4" transform="translate(1971,4086)"><rect class="bx" width="392" height="90.3" rx="10"/><text class="t" x="9.5" y="28"><tspan x="9.5">这次尝试让我十分难忘，也让我明白了一个道</tspan><tspan x="9.5" dy="24.1">理，做什么事情都需要坚持和尝试，这样你才</tspan><tspan x="9.5" dy="24.1">会成为一个成功者。</tspan></text></g>

<g id="v1" transform="translate(1971,4216.5)"><rect class="bx" width="392" height="114.4" rx="10"/><text class="t" x="9.5" y="28"><tspan x="9.5">当我拿着一个巨大的盒子时，我激动不已，因</tspan><tspan x="9.5" dy="24.1">为这个玩具正在等着我拆开。当那密密麻麻的</tspan><tspan x="9.5" dy="24.1">飞机零件倒出时，我吓了一跳，这么多零件，</tspan><tspan x="9.5" dy="24.1">就像大海旁那一粒粒细沙。</tspan></text></g>
<g id="v2" transform="translate(1971,4371)"><rect class="bx" width="392" height="66.2" rx="10"/><text class="t" x="9.5" y="28"><tspan x="9.5">在不久前，我总在那偌大的电视屏幕上看见这</tspan><tspan x="9.5" dy="24.1">积木是如此有趣，所以也买了这个玩具。</tspan></text></g>
<g id="v3" transform="translate(1971,4477)"><rect class="bx" width="392" height="138.5" rx="10"/><text class="t" x="9.5" y="28"><tspan x="9.5">我看着说明书，一步步让人难理解的拼装，让</tspan><tspan x="9.5" dy="24.1">我更加没有自信。我一次又一次地看着说明书</tspan><tspan x="9.5" dy="24.1">，让我大概地理解了这个说明书，在这个基础</tspan><tspan x="9.5" dy="24.1">上，我决定开始拼，但现在太阳也来了，为我</tspan><tspan x="9.5" dy="24.1">照亮着。</tspan></text></g>
<g id="v4" transform="translate(1971,4656)"><rect class="bx" width="392" height="186.7" rx="10"/><text class="t" x="9.5" y="28"><tspan x="9.5">那五彩缤纷的积木让我眼花缭乱。我和奶奶一</tspan><tspan x="9.5" dy="24.1">起找零件，但还是大海捞针。我细心地找着，</tspan><tspan x="9.5" dy="24.1">拼着，但需要拼那飞机的里面时，我愣住了这</tspan><tspan x="9.5" dy="24.1">原来这么麻烦，在我苦恼时，我想起了著名的</tspan><tspan x="9.5" dy="24.1">飞机创造者———-莱特兄弟。他们用辛勤的汗</tspan><tspan x="9.5" dy="24.1">水，为我们换来了如此方便的交通工具，并且</tspan><tspan x="9.5" dy="24.1">，还是那么大的工程，真是太不容易了。</tspan></text></g>
<g id="v5" transform="translate(1971,4883)"><rect class="bx" width="392" height="114.4" rx="10"/><text class="t" x="9.5" y="28"><tspan x="9.5">我一边为自己鼓励，一边快速地拼了起来，不</tspan><tspan x="9.5" dy="24.1">久，我拼出了飞机，这时我才发现，原来这飞</tspan><tspan x="9.5" dy="24.1">机上有蓝色和红色，还有绿色......真美丽，看</tspan><tspan x="9.5" dy="24.1">着这飞机，我的心里真的有成就感。</tspan></text></g>
<g id="v6" transform="translate(1971,5038)"><rect class="bx" width="392" height="66.2" rx="10"/><text class="t" x="9.5" y="28"><tspan x="9.5">我十分感谢奶奶，如果没有她，我一定会更难</tspan><tspan x="9.5" dy="24.1">完成这次尝试。</tspan></text></g>

<g id="w1" transform="translate(1971,5144)"><rect class="bx" width="392" height="66.2" rx="10"/><text class="t" x="9.5" y="28"><tspan x="9.5">"叮铃铃... ..."上课铃打响了，体育老师来到了</tspan><tspan x="9.5" dy="24.1">教室。</tspan></text></g>
<g id="w2" transform="translate(1971,5251)"><rect class="bx" width="392" height="186.7" rx="10"/><text class="t" x="9.5" y="28"><tspan x="9.5">老师先给大家说了一个惊人的消息："我们来</tspan><tspan x="9.5" dy="24.1">一次800米长跑比赛！"同学们听了顿时都呆</tspan><tspan x="9.5" dy="24.1">住了，有的同学还说："平时我们都跑100、2</tspan><tspan x="9.5" dy="24.1">00米，今天竟然跑800米，简直就是一个天大</tspan><tspan x="9.5" dy="24.1">的数目啊！"我在心里暗自窃喜：不就是800</tspan><tspan x="9.5" dy="24.1">米长跑吗？算得了什么呀，这对我来说可是小</tspan><tspan x="9.5" dy="24.1">菜一碟呀！</tspan></text></g>
<g id="w3" transform="translate(1971,5478)"><rect class="bx" width="392" height="355.4" rx="10"/><text class="t" x="9.5" y="28"><tspan x="9.5">我们来到操场，同学们都做好了长跑的准备，</tspan><tspan x="9.5" dy="24.1">只听"砰"的一声，长跑比赛的第一圈开始了。</tspan><tspan x="9.5" dy="24.1">第一圈我跑得非常轻松，很快就遥遥领先了。</tspan><tspan x="9.5" dy="24.1">在快要到达终点的时候，我一不小心被脚下的</tspan><tspan x="9.5" dy="24.1">石块绊倒了。这时我想：还是放弃吧！正在我</tspan><tspan x="9.5" dy="24.1">思考的时候，似乎听到体育老师对我说："加</tspan><tspan x="9.5" dy="24.1">油，这只是绊倒而已，我们要坚持住，坚持就</tspan><tspan x="9.5" dy="24.1">是胜利！"于是，我又重新站了起来，鼓起勇</tspan><tspan x="9.5" dy="24.1">气，继续向前。终于，第一圈过去了。第二圈</tspan><tspan x="9.5" dy="24.1">开始了，过了几分钟我就轻而易举跑完了。但</tspan><tspan x="9.5" dy="24.1">是到了第三圈的时候，我已经累得不行了，但</tspan><tspan x="9.5" dy="24.1">我还是在心里默念：我一定可以的！加油！过</tspan><tspan x="9.5" dy="24.1">了好长时间，我终于跑完了800米，到达了终</tspan><tspan x="9.5" dy="24.1">点。</tspan></text></g>
<g id="w4" transform="translate(1971,5873)"><rect class="bx" width="392" height="90.3" rx="10"/><text class="t" x="9.5" y="28"><tspan x="9.5">通过这次800米长跑尝试，我明白了一个道理</tspan><tspan x="9.5" dy="24.1">：不是什么事都能轻而易举成功的，但一定要</tspan><tspan x="9.5" dy="24.1">坚持！</tspan></text></g>
</g>
</svg>
